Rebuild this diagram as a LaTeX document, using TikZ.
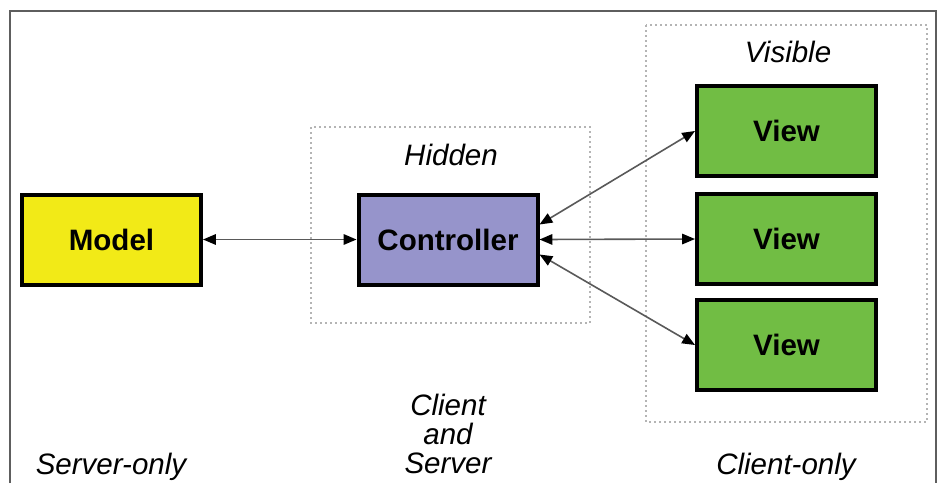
\documentclass[tikz,border=0pt]{standalone}
\usepackage{fontspec}
\setmainfont{Liberation Sans}
\usepackage{tikz}
\usetikzlibrary{positioning,arrows.meta}
\definecolor{myellow}{HTML}{F2EA17}
\definecolor{mlav}{HTML}{9694CB}
\definecolor{vgreen}{HTML}{71BD44}
\definecolor{fgray}{HTML}{5E5E5E}
\definecolor{zgray}{HTML}{B4B4B4}

\begin{document}
\begin{tikzpicture}[x=0.25mm, y=-0.25mm,
  font=\fontsize{21}{20.3}\selectfont,
  box/.style={draw, line width=1mm, minimum width=44.75mm, minimum height=22.5mm, align=center, font=\fontsize{21}{25}\selectfont\bfseries},
  zone/.style={draw=zgray, line width=0.45mm, dash pattern=on 0.45mm off 0.8mm},
  lab/.style={anchor=base, align=center, font=\fontsize{21}{20.3}\selectfont\itshape},
  link/.style={{Triangle[length=3.2mm, width=2.6mm, color=black]}-{Triangle[length=3.2mm, width=2.6mm, color=black]}, draw=black!65, line width=0.4mm}]
\useasboundingbox (0,0) rectangle (939,483);

% outer frame, open at the bottom
\draw[fgray, line width=0.5mm] (10,483) -- (10,11) -- (936,11) -- (936,483);

% --- dotted zones ---
\draw[zone] (311,127) rectangle (590,323);
\draw[zone] (646,25) rectangle (927,422);
\node[lab] (hid) at (451,165) {Hidden};
\node[lab] (vis) at (788,62) {Visible};

% --- the three parts ---
\node[box, fill=myellow] (model) at (111.5,239.5) {Model};
\node[box, fill=mlav] (ctrl) at (448,239.5) {Controller};
\node[box, fill=vgreen] (v2) at (786.5,239) {View};
\node[box, fill=vgreen, above=3.5mm of v2] (v1) {View};
\node[box, fill=vgreen, below=3mm of v2] (v3) {View};

% connectors
\draw[link] (model.east) -- (ctrl.west);
\draw[link] ([yshift=3.75mm]ctrl.east) -- (v1.west);
\draw[link] (ctrl.east) -- (v2.west);
\draw[link] ([yshift=-3.75mm]ctrl.east) -- (v3.west);

% --- where each part runs (base = last line) ---
\node[lab] (srv) at (111,474) {Server-only};
\node[lab] (both) at (448,473) {Client\\and\\Server};
\node[lab] (cli) at (786,474) {Client-only};
\end{tikzpicture}
\end{document}
